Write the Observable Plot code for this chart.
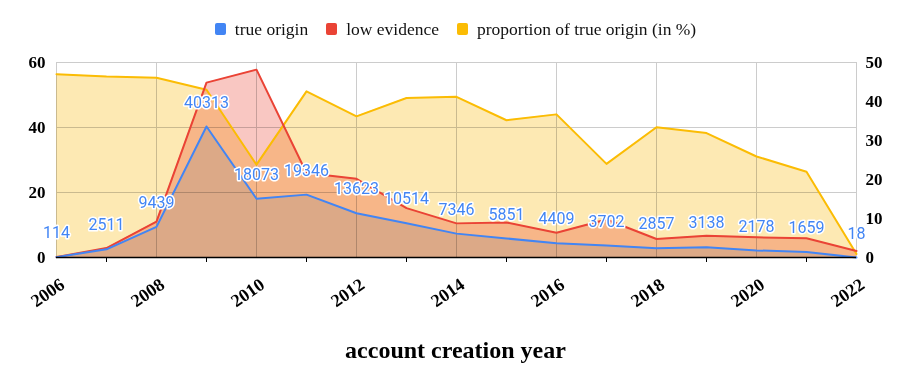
<!DOCTYPE html>
<html><head><meta charset="utf-8">
<script src="https://cdn.jsdelivr.net/npm/d3@7"></script>
<script src="https://cdn.jsdelivr.net/npm/@observablehq/plot@0.6"></script>
<style>
body{margin:0;background:#fff;width:911px;height:382px;overflow:hidden;}
#legend{height:50px;display:flex;justify-content:center;align-items:center;padding-top:8px;box-sizing:border-box;font-family:"Liberation Serif",serif;font-size:17.5px;color:#111;}
#legend .item{display:flex;align-items:center;margin:0 9px;}
#legend .sw{width:11px;height:12px;border-radius:2px;margin-right:9px;}
#title{text-align:center;font-family:"Liberation Serif",serif;font-weight:bold;font-size:24px;line-height:26px;margin-top:22px;color:#000;}
</style></head>
<body>
<div id="legend"></div>
<div id="chart"></div>
<div id="title">account creation year</div>
<script>
const years = [2006,2007,2008,2009,2010,2011,2012,2013,2014,2015,2016,2017,2018,2019,2020,2021,2022];
const trueOrigin = [114,2511,9439,40313,18073,19346,13623,10514,7346,5851,4409,3702,2857,3138,2178,1659,18];
const lowEvidence = [130,2900,11040,53800,57800,26000,24200,15200,10500,10800,7600,11700,5700,6700,6200,5900,2000];
const proportion = [47.0,46.4,46.1,43.0,23.8,42.6,36.2,40.9,41.2,35.2,36.7,24.0,33.4,31.9,25.9,22.0,0.9];
const leftTicks = [0,20,40,60];
const rightTicks = [0,10,20,30,40,50];
const labelYears = [2006,2008,2010,2012,2014,2016,2018,2020,2022];
const minorYears = [2007,2009,2011,2013,2015,2017,2019,2021];
const seriesNames = ["true origin","low evidence","proportion of true origin (in %)"];
const seriesColors = ["#4285F4","#EA4335","#FBBC04"];

const leftMax = 60, rightMax = 50;
const rows = years.map((y,i)=>({
  year:y, t:trueOrigin[i]/1000, l:lowEvidence[i]/1000,
  p:proportion[i]*leftMax/rightMax, label:String(trueOrigin[i])
}));

const legend = document.getElementById("legend");
seriesNames.forEach((n,i)=>{
  const it = document.createElement("div"); it.className="item";
  const sw = document.createElement("div"); sw.className="sw"; sw.style.background=seriesColors[i];
  const tx = document.createElement("span"); tx.textContent=n;
  it.appendChild(sw); it.appendChild(tx); legend.appendChild(it);
});

const chart = Plot.plot({
  width:911, height:265, marginLeft:56, marginRight:55, marginTop:12, marginBottom:58,
  x:{domain:[years[0],years[years.length-1]]},
  y:{domain:[0,leftMax]},
  style:{fontFamily:"Liberation Serif", fontSize:"17px", fontWeight:"bold", color:"#000", background:"white", overflow:"visible"},
  marks:[
    Plot.gridX(labelYears,{stroke:"#cccccc", strokeOpacity:1}),
    Plot.gridY(leftTicks.slice(1),{stroke:"#cccccc", strokeOpacity:1}),
    Plot.areaY(rows,{x:"year", y:"p", fill:"#fde9b3", mixBlendMode:"multiply"}),
    Plot.areaY(rows,{x:"year", y:"l", fill:"#f9c7c2", mixBlendMode:"multiply"}),
    Plot.areaY(rows,{x:"year", y:"t", fill:"#e3edfd", mixBlendMode:"multiply"}),
    Plot.lineY(rows,{x:"year", y:"p", stroke:seriesColors[2], strokeWidth:2}),
    Plot.lineY(rows,{x:"year", y:"l", stroke:seriesColors[1], strokeWidth:2}),
    Plot.lineY(rows,{x:"year", y:"t", stroke:seriesColors[0], strokeWidth:2}),
    Plot.ruleY([0],{stroke:"#000", strokeWidth:1.5}),
    Plot.axisX(minorYears,{tickSize:5, tickFormat:()=>"", label:null}),
    Plot.axisX(labelYears,{tickSize:0, tickPadding:25, dx:6, tickRotate:-35, fontSize:18, tickFormat:d=>String(d), label:null}),
    Plot.axisY(leftTicks,{anchor:"left", tickSize:0, tickPadding:11, label:null}),
    Plot.axisY(rightTicks.map(v=>v*leftMax/rightMax),{anchor:"right", tickSize:0, tickPadding:9, tickFormat:d=>String(Math.round(d*rightMax/leftMax)), label:null}),
    Plot.text(rows,{x:"year", y:"t", text:"label", dy:-24, fill:"#4285F4", stroke:"white", strokeWidth:3, fontFamily:"Roboto", fontSize:16, fontWeight:"normal"})
  ]
});
document.getElementById("chart").appendChild(chart);
</script>
</body></html>
